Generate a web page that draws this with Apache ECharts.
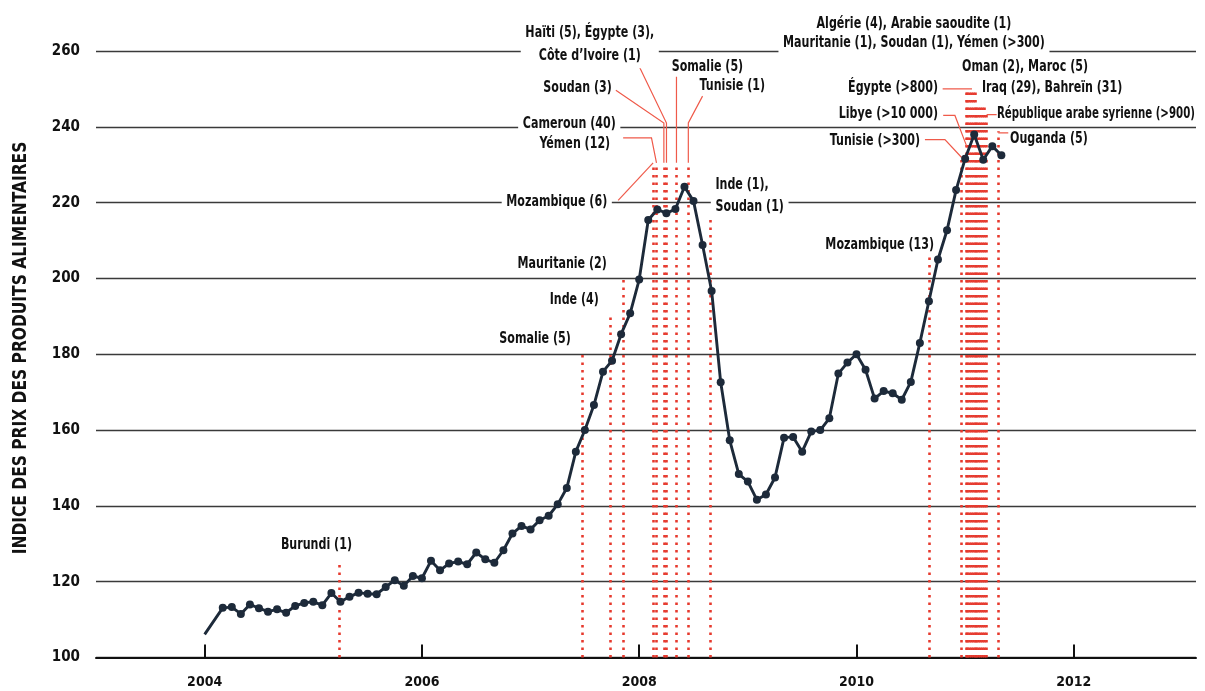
<!DOCTYPE html>
<html><head><meta charset="utf-8">
<script src="https://cdn.jsdelivr.net/npm/echarts@6/dist/echarts.min.js"></script>
<style>html,body{margin:0;padding:0;background:#fff}#c{width:1205px;height:691px}</style>
</head><body><div id="c"></div>
<script>
// FAO food price index, monthly from January 2004 (null = no reading)
const startYear = 2004;
const foodIndex = [
  106.1, null, 113.1, 113.3, 111.5, 114.0, 113.0, 112.1, 112.7, 111.8, 113.6, 114.4,
  114.7, 113.8, 117.0, 114.7, 116.0, 117.1, 116.8, 116.7, 118.6, 120.4, 118.9, 121.5,
  120.9, 125.5, 123.0, 124.8, 125.3, 124.6, 127.7, 125.9, 125.0, 128.3, 132.7, 134.7,
  133.8, 136.2, 137.4, 140.4, 144.7, 154.3, 160.0, 166.6, 175.4, 178.3, 185.3, 190.8,
  199.7, 215.4, 218.2, 217.2, 218.3, 224.2, 220.4, 208.8, 196.7, 172.6, 157.3, 148.4,
  146.4, 141.6, 143.0, 147.5, 158.0, 158.2, 154.3, 159.6, 160.0, 163.1, 174.9, 177.8,
  180.0, 175.9, 168.3, 170.3, 169.7, 168.0, 172.7, 183.0, 194.0, 205.0, 212.7, 223.3,
  231.6, 238.0, 231.3, 234.9, 232.5
];
const yearTicks = [2004, 2006, 2008, 2010, 2012];
const yTitle = 'INDICE DES PRIX DES PRODUITS ALIMENTAIRES';

// Unrest events: name, date (decimal year), height of the marker line (index units)
const eventNames = ['Burundi','Somalie','Inde','Mauritanie','Mozambique','Cameroun / Yémen','Soudan','Haïti / Égypte / Côte d’Ivoire','Somalie','Tunisie','Inde / Soudan','Mozambique','Tunisie','Algérie','Arabie saoudite','Mauritanie','Égypte','Soudan','Yémen','Oman','Maroc','Libye','Iraq','Bahreïn','Syrie','Ouganda'];
const eventDates = [2005.243,2007.478,2007.738,2007.852,2008.128,2008.159,2008.227,2008.251,2008.343,2008.452,2008.657,2010.667,2010.968,2011.007,2011.024,2011.040,2011.057,2011.073,2011.090,2011.106,2011.123,2011.140,2011.156,2011.173,2011.198,2011.305];
const eventTops  = [125.3,180.5,190.7,200.4,230.5,230.5,230.5,230.5,230.5,230.5,215.5,205.7,231.4,250.1,250.1,250.1,250.1,250.1,250.1,245.4,245.4,245.4,245.4,245.4,243.2,238.8];

// Annotation layout (data coordinates)
const annotations = [
  {t:'Burundi (1)', x:2005.029, y:129.6, a:'center'},
  {t:'Somalie (5)', x:2007.370, y:184.1, a:'right'},
  {t:'Inde (4)', x:2007.628, y:194.4, a:'right'},
  {t:'Mauritanie (2)', x:2007.702, y:203.9, a:'right'},
  {t:'Mozambique (6)', x:2007.748, y:220.2, a:'right', bg:true},
  {t:'Cameroun (40)', x:2007.356, y:240.9, a:'center', bg:true},
  {t:'Yémen (12)', x:2007.407, y:235.6, a:'center'},
  {t:'Soudan (3)', x:2007.748, y:250.4, a:'right'},
  {t:'Haïti (5), Égypte (3),\nCôte d’Ivoire (1)', x:2007.545, y:261.8, a:'center', bg:true, lh:23},
  {t:'Somalie (5)', x:2008.628, y:255.7, a:'center'},
  {t:'Tunisie (1)', x:2008.857, y:250.7, a:'center'},
  {t:'Inde (1),\nSoudan (1)', x:2008.659, y:221.8, a:'left', bg:true, lh:22},
  {t:'Mozambique (13)', x:2010.713, y:208.9, a:'right'},
  {t:'Algérie (4), Arabie saoudite (1)\nMauritanie (1), Soudan (1), Yémen (>300)', x:2010.529, y:264.75, a:'center', bg:true, lh:19},
  {t:'Oman (2), Maroc (5)', x:2011.551, y:255.7, a:'center'},
  {t:'Égypte (>800)', x:2010.750, y:250.2, a:'right'},
  {t:'Iraq (29), Bahreïn (31)', x:2011.155, y:250.4, a:'left'},
  {t:'Libye (>10 000)', x:2010.750, y:243.3, a:'right'},
  {t:'République arabe syrienne (>900)', x:2011.293, y:243.5, a:'left', sx:0.71},
  {t:'Tunisie (>300)', x:2010.584, y:236.4, a:'right'},
  {t:'Ouganda (5)', x:2011.413, y:236.9, a:'left'}
];
const leaders = [
  [[2007.806,220.6],[2008.128,230.5]],
  [[2007.852,237.1],[2008.113,237.1],[2008.159,230.5]],
  [[2007.785,249.65],[2008.227,241.0],[2008.227,230.5]],
  [[2007.999,256.0],[2008.251,241.0],[2008.251,230.5]],
  [[2008.343,253.2],[2008.343,230.5]],
  [[2008.583,248.1],[2008.452,241.0],[2008.452,230.5]],
  [[2010.793,250.0],[2011.063,250.0]],
  [[2010.798,243.0],[2010.906,243.0],[2011.014,234.9]],
  [[2010.630,236.6],[2010.814,236.6],[2010.968,231.9]],
  [[2011.290,243.2],[2011.198,243.2]],
  [[2011.397,238.4],[2011.305,238.4]]
];

const FONT = "'DejaVu Sans Condensed', 'Liberation Sans Narrow', 'DejaVu Sans', sans-serif";
const INK = '#111111';
const NAVY = '#1d2a3a';
const RED = '#e6392d';
const TEXT_SCALE = 0.77;

const lineData = foodIndex.map((v, i) => {
  const item = { value: [startYear + i / 12, v] };
  if (i === 0) item.symbolSize = 0;
  return item;
});

const chart = echarts.init(document.getElementById('c'), null, {renderer: 'canvas'});
chart.setOption({
  animation: false,
  backgroundColor: '#fff',
  grid: { left: 96, right: 9, top: 51, bottom: 33.5, containLabel: false, outerBoundsMode: 'none' },
  graphic: [{
    type: 'text', x: 21, y: 348, rotation: Math.PI / 2, scaleX: 0.86, silent: true,
    style: { text: yTitle, fill: INK, fontFamily: FONT, fontWeight: 'bold', fontSize: 20, align: 'center', verticalAlign: 'middle' }
  }],
  xAxis: {
    type: 'value', min: 2003, max: 2013.125,
    axisLine: { show: true, lineStyle: { color: '#111', width: 2 } },
    axisTick: { show: true, inside: true, length: 13, customValues: yearTicks, lineStyle: { color: '#111', width: 2 } },
    axisLabel: { show: true, customValues: yearTicks, margin: 18, fontFamily: FONT, fontWeight: 'bold', fontSize: 14, color: INK, formatter: v => String(v) },
    splitLine: { show: false }
  },
  yAxis: {
    type: 'value', min: 100, max: 260, interval: 20,
    axisLine: { show: false }, axisTick: { show: false },
    axisLabel: { margin: 16, fontFamily: FONT, fontWeight: 'bold', fontSize: 15, color: INK },
    splitLine: { show: true, lineStyle: { color: '#3a3a3a', width: 1.4 } }
  },
  series: [
    {
      type: 'lines', coordinateSystem: 'cartesian2d', silent: true, z: 2,
      lineStyle: { color: RED, width: 2.6, type: [2.6, 4.9], opacity: 1 },
      data: eventDates.map((d, i) => ({ name: eventNames[i], coords: [[d, 100], [d, eventTops[i]]] }))
    },
    {
      type: 'lines', coordinateSystem: 'cartesian2d', polyline: true, silent: true, z: 3,
      lineStyle: { color: '#ef5a4a', width: 1.2, opacity: 1 },
      data: leaders.map(c => ({ coords: c }))
    },
    {
      type: 'line', z: 5, silent: true, connectNulls: true,
      symbol: 'circle', symbolSize: 8, showAllSymbol: true,
      lineStyle: { color: NAVY, width: 2.9 }, itemStyle: { color: NAVY },
      data: lineData
    },
    {
      type: 'custom', coordinateSystem: 'cartesian2d', z: 6, silent: true, clip: false,
      data: annotations.map(a => [a.x, a.y]),
      renderItem: (params, api) => {
        const a = annotations[params.dataIndex];
        const p = api.coord([api.value(0), api.value(1)]);
        const style = {
          text: a.t, x: 0, y: 0, fill: INK, fontFamily: FONT, fontWeight: 'bold', fontSize: 16,
          align: a.a, verticalAlign: 'middle', lineHeight: a.lh || 20
        };
        if (a.bg) { style.backgroundColor = '#fff'; style.padding = [1, 6]; }
        return { type: 'text', x: p[0], y: p[1], scaleX: a.sx || TEXT_SCALE, style: style };
      }
    }
  ]
});
</script></body></html>
